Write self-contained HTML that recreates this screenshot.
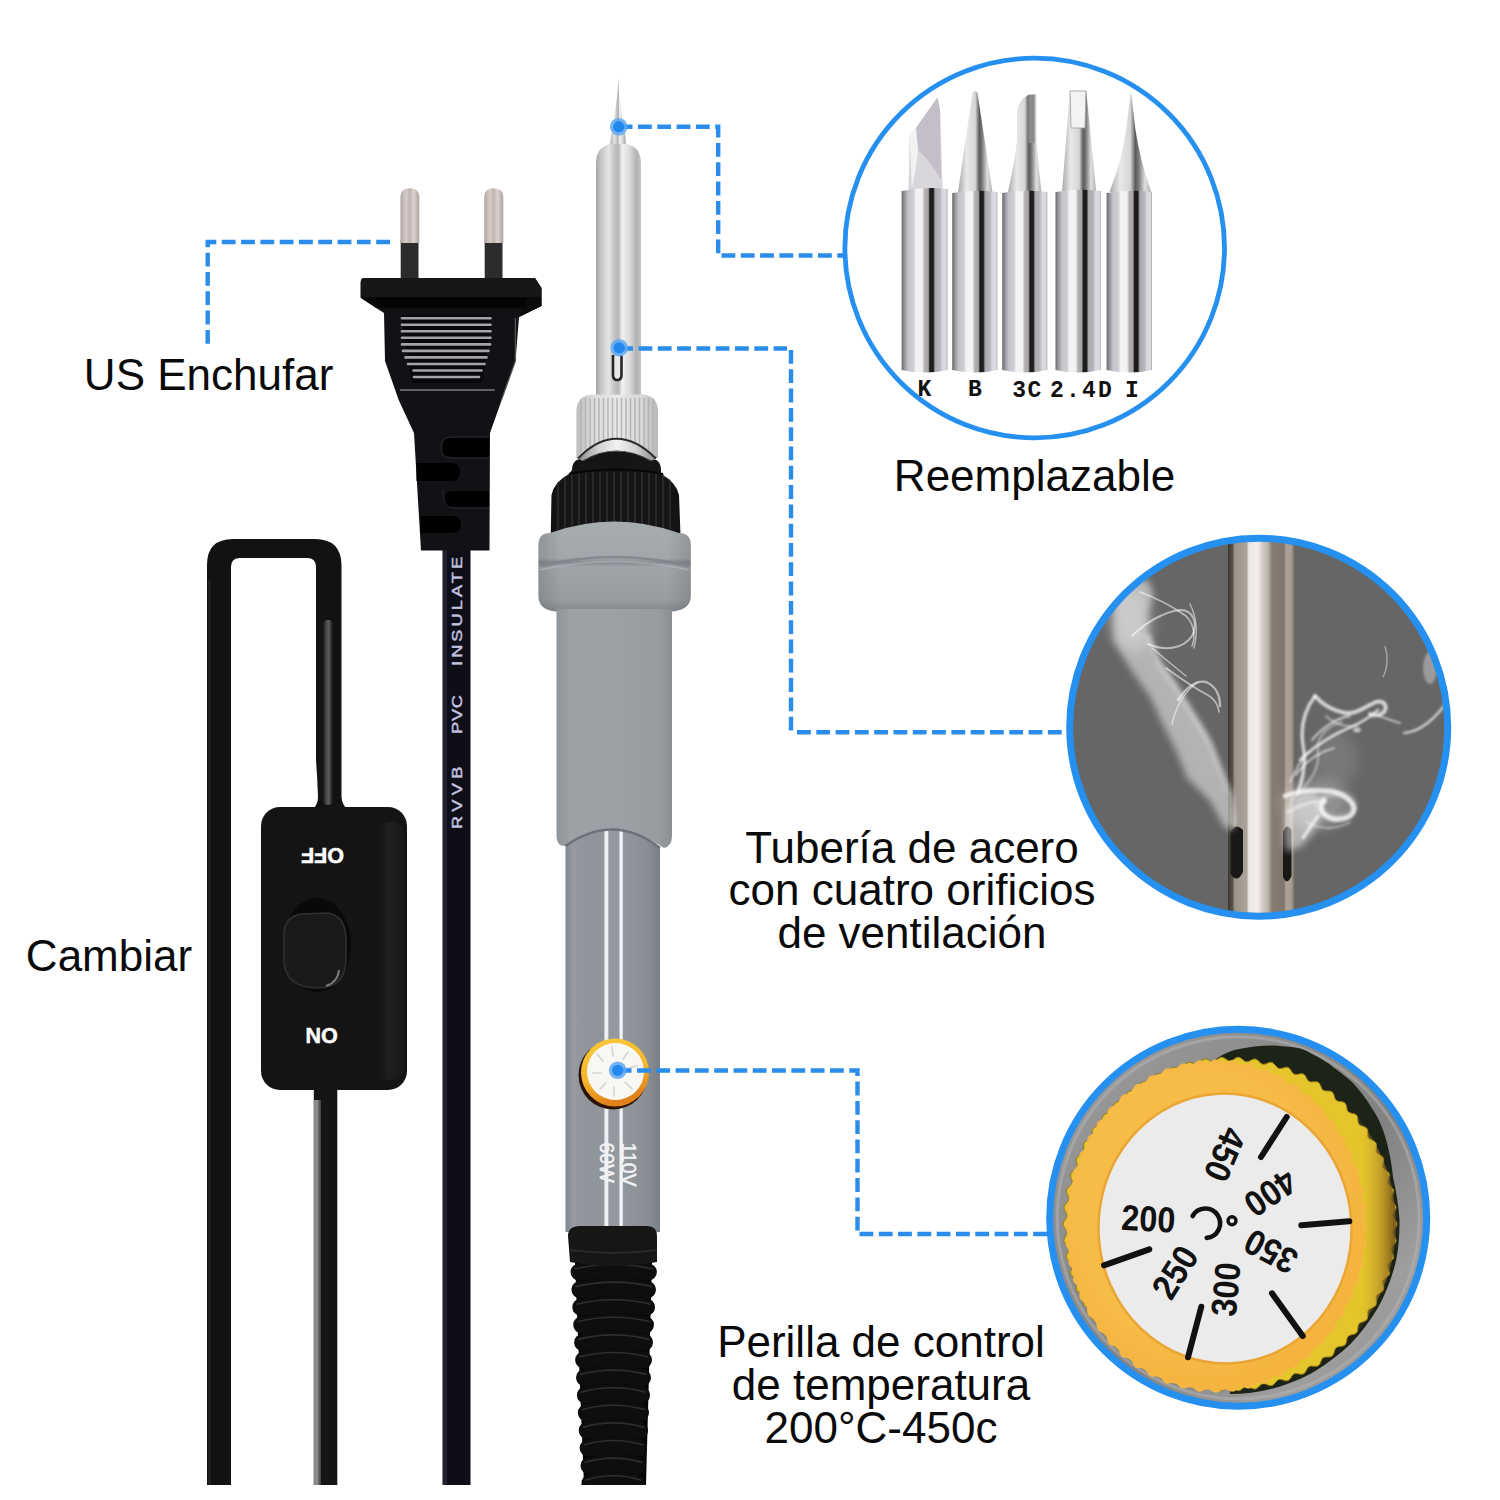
<!DOCTYPE html>
<html><head><meta charset="utf-8">
<style>
html,body{margin:0;padding:0;background:#fff;}
body{width:1500px;height:1500px;overflow:hidden;}
svg{display:block;}
.t{font-family:"Liberation Sans",sans-serif;font-size:44px;fill:#0a0a0a;}
</style></head><body>
<svg width="1500" height="1500" viewBox="0 0 1500 1500">
<defs>
  <linearGradient id="prong" x1="0" x2="1">
    <stop offset="0" stop-color="#b3a7a4"/><stop offset="0.3" stop-color="#d6ccc9"/><stop offset="0.5" stop-color="#c0b4b1"/><stop offset="0.7" stop-color="#dcd3d0"/><stop offset="1" stop-color="#ada29f"/>
  </linearGradient>
  <linearGradient id="barrel" x1="0" x2="1">
    <stop offset="0" stop-color="#a5a5a5"/><stop offset="0.1" stop-color="#c4c4c4"/><stop offset="0.28" stop-color="#e4e4e4"/><stop offset="0.42" stop-color="#c2c2c2"/><stop offset="0.5" stop-color="#b8b8b8"/><stop offset="0.58" stop-color="#f2f2f2"/><stop offset="0.75" stop-color="#dadada"/><stop offset="0.9" stop-color="#b2b2b2"/><stop offset="1" stop-color="#c6c6c6"/>
  </linearGradient>
  <linearGradient id="nut" x1="0" x2="1">
    <stop offset="0" stop-color="#bdbdbd"/><stop offset="0.2" stop-color="#dcdcdc"/><stop offset="0.5" stop-color="#e8e8e8"/><stop offset="0.8" stop-color="#d8d8d8"/><stop offset="1" stop-color="#b8b8b8"/>
  </linearGradient>
  <linearGradient id="ring" x1="0" x2="1">
    <stop offset="0" stop-color="#8a8a8a"/><stop offset="0.25" stop-color="#cfcfcf"/><stop offset="0.5" stop-color="#f2f2f2"/><stop offset="0.75" stop-color="#d0d0d0"/><stop offset="1" stop-color="#8a8a8a"/>
  </linearGradient>
  <linearGradient id="collar" x1="0" y1="0" x2="0" y2="1">
    <stop offset="0" stop-color="#a7acaf"/><stop offset="0.4" stop-color="#a2a7ab"/><stop offset="0.45" stop-color="#868c91"/><stop offset="0.5" stop-color="#a0a5a9"/><stop offset="0.85" stop-color="#989da1"/><stop offset="1" stop-color="#7f858a"/>
  </linearGradient>
  <linearGradient id="collarH" x1="0" x2="1">
    <stop offset="0" stop-color="#000" stop-opacity="0.12"/><stop offset="0.15" stop-color="#000" stop-opacity="0"/><stop offset="0.85" stop-color="#000" stop-opacity="0"/><stop offset="1" stop-color="#000" stop-opacity="0.12"/>
  </linearGradient>
  <linearGradient id="grip" x1="0" x2="1">
    <stop offset="0" stop-color="#90959a"/><stop offset="0.12" stop-color="#9ca1a5"/><stop offset="0.5" stop-color="#9ca1a5"/><stop offset="0.88" stop-color="#979ca0"/><stop offset="1" stop-color="#8a8f94"/>
  </linearGradient>
  <linearGradient id="tube" x1="0" x2="1">
    <stop offset="0" stop-color="#838990"/><stop offset="0.08" stop-color="#959aa0"/><stop offset="0.25" stop-color="#90959c"/><stop offset="0.405" stop-color="#90959c"/><stop offset="0.418" stop-color="#eef0f4"/><stop offset="0.447" stop-color="#eef0f4"/><stop offset="0.46" stop-color="#92979e"/><stop offset="0.565" stop-color="#959aa1"/><stop offset="0.578" stop-color="#f2f4f7"/><stop offset="0.6" stop-color="#f2f4f7"/><stop offset="0.613" stop-color="#92979e"/><stop offset="0.85" stop-color="#8a8f96"/><stop offset="1" stop-color="#7a7f86"/>
  </linearGradient>
  <linearGradient id="relief" x1="0" x2="1">
    <stop offset="0" stop-color="#0c0c0c"/><stop offset="0.45" stop-color="#1c1c1c"/><stop offset="0.7" stop-color="#222"/><stop offset="1" stop-color="#0c0c0c"/>
  </linearGradient>
  <linearGradient id="cyl" x1="0" x2="1">
    <stop offset="0" stop-color="#6a6a6a"/><stop offset="0.07" stop-color="#9a98a0"/><stop offset="0.14" stop-color="#c4c2c8"/><stop offset="0.26" stop-color="#d0ced4"/><stop offset="0.31" stop-color="#f4f4f6"/><stop offset="0.45" stop-color="#f2f2f4"/><stop offset="0.5" stop-color="#b4b0b0"/><stop offset="0.58" stop-color="#a8a4a4"/><stop offset="0.615" stop-color="#1c1c1c"/><stop offset="0.69" stop-color="#1c1c1c"/><stop offset="0.73" stop-color="#aca8b0"/><stop offset="0.84" stop-color="#b8b4bc"/><stop offset="0.88" stop-color="#d8d6de"/><stop offset="0.97" stop-color="#dcdae0"/><stop offset="1" stop-color="#a0a0a0"/>
  </linearGradient>
  <linearGradient id="cone" x1="0" x2="1">
    <stop offset="0" stop-color="#a8a8a8"/><stop offset="0.25" stop-color="#e8e8e8"/><stop offset="0.5" stop-color="#d6d6d6"/><stop offset="0.62" stop-color="#5a5a5a"/><stop offset="0.7" stop-color="#7a7a7a"/><stop offset="0.85" stop-color="#e0e0e0"/><stop offset="1" stop-color="#b0b0b0"/>
  </linearGradient>
  <linearGradient id="pipe" x1="0" x2="1">
    <stop offset="0" stop-color="#3a372f"/><stop offset="0.07" stop-color="#5a554c"/><stop offset="0.1" stop-color="#9a938a"/><stop offset="0.28" stop-color="#aba49b"/><stop offset="0.31" stop-color="#ece6e4"/><stop offset="0.45" stop-color="#f2eeec"/><stop offset="0.52" stop-color="#d2cac4"/><stop offset="0.6" stop-color="#bdb5ad"/><stop offset="0.66" stop-color="#877d73"/><stop offset="0.84" stop-color="#7f756b"/><stop offset="0.87" stop-color="#aca298"/><stop offset="0.95" stop-color="#a79d93"/><stop offset="1" stop-color="#6e675f"/>
  </linearGradient>
  <linearGradient id="metal" x1="0" y1="0" x2="1" y2="1">
    <stop offset="0" stop-color="#a3a3a3"/><stop offset="0.3" stop-color="#8d8d8d"/><stop offset="0.55" stop-color="#828282"/><stop offset="0.75" stop-color="#9e9e9e"/><stop offset="1" stop-color="#8a8a8a"/>
  </linearGradient>
  <linearGradient id="sideg" x1="0" y1="0" x2="1" y2="0">
    <stop offset="0.88" stop-color="#e6c62a" stop-opacity="0"/><stop offset="0.95" stop-color="#b08828" stop-opacity="0.6"/><stop offset="1" stop-color="#6a4c14" stop-opacity="0.9"/>
  </linearGradient>
  <radialGradient id="knobface" cx="0.45" cy="0.45" r="0.6">
    <stop offset="0.7" stop-color="#f7bb48"/><stop offset="1" stop-color="#f3b13a"/>
  </radialGradient>
  <linearGradient id="kring" x1="0" y1="0" x2="0.3" y2="1">
    <stop offset="0" stop-color="#f9cc3a"/><stop offset="0.6" stop-color="#f6b52a"/><stop offset="1" stop-color="#e0801a"/>
  </linearGradient>
  <linearGradient id="swside" x1="0" x2="1">
    <stop offset="0" stop-color="#1c1c1c" stop-opacity="0"/><stop offset="0.4" stop-color="#1f1f1f"/><stop offset="1" stop-color="#181818"/>
  </linearGradient>
  <linearGradient id="cabhl" x1="0" x2="1">
    <stop offset="0" stop-color="#121212" stop-opacity="0"/><stop offset="0.35" stop-color="#4a4a4a"/><stop offset="0.6" stop-color="#5a5a5a"/><stop offset="1" stop-color="#121212" stop-opacity="0"/>
  </linearGradient>
  <radialGradient id="dotg">
    <stop offset="0" stop-color="#2a8af0"/><stop offset="0.6" stop-color="#2a8af0"/><stop offset="1" stop-color="#2a8af0" stop-opacity="0"/>
  </radialGradient>
  <clipPath id="c1clip"><circle cx="1034.7" cy="248" r="188"/></clipPath>
  <clipPath id="c2clip"><circle cx="1258.7" cy="727.2" r="189"/></clipPath>
  <clipPath id="c3clip"><circle cx="1238.2" cy="1217.8" r="188.5"/></clipPath>
  <filter id="fb05" filterUnits="userSpaceOnUse" x="1000" y="450" width="500" height="500"><feGaussianBlur stdDeviation="0.6"/></filter>
  <filter id="fb1" filterUnits="userSpaceOnUse" x="1000" y="450" width="500" height="500"><feGaussianBlur stdDeviation="1"/></filter>
  <filter id="fb2" filterUnits="userSpaceOnUse" x="1000" y="450" width="500" height="500"><feGaussianBlur stdDeviation="2"/></filter>
  <filter id="fb3" filterUnits="userSpaceOnUse" x="1000" y="450" width="500" height="500"><feGaussianBlur stdDeviation="3.5"/></filter>
  <filter id="fb6" filterUnits="userSpaceOnUse" x="1000" y="450" width="500" height="500"><feGaussianBlur stdDeviation="7"/></filter>
  <filter id="blur05" x="-20%" y="-20%" width="140%" height="140%"><feGaussianBlur stdDeviation="0.6"/></filter>
  <filter id="blur1" x="-20%" y="-20%" width="140%" height="140%"><feGaussianBlur stdDeviation="1"/></filter>
  <filter id="blur2" x="-20%" y="-20%" width="140%" height="140%"><feGaussianBlur stdDeviation="2"/></filter>
  <filter id="blur3" x="-30%" y="-30%" width="160%" height="160%"><feGaussianBlur stdDeviation="4"/></filter>
  <filter id="blur6" x="-30%" y="-30%" width="160%" height="160%"><feGaussianBlur stdDeviation="7"/></filter>
</defs>
<rect width="1500" height="1500" fill="#fff"/>

<path d="M207 1485 V565 Q207 539 233 539 H315 Q341 539 341.5 565 V797 Q342 805 348 810 H312 Q318 805 318 797 Q317.5 780 316 760 V567 Q316 558 307 558 H240 Q231 558 231 567 V1485 Z" fill="#121212"/>
<path d="M209.5 1485 V580" stroke="#262626" stroke-width="2" fill="none"/>
<rect x="321.5" y="620" width="13" height="185" rx="6" fill="url(#cabhl)"/>
<rect x="313.8" y="1085" width="23.5" height="400" fill="#151515"/>
<rect x="313.8" y="1100" width="5" height="385" fill="#8a8a8a"/>
<rect x="318.8" y="1100" width="2" height="385" fill="#555"/>
<rect x="261" y="807" width="146" height="283" rx="19" fill="#141414"/>
<rect x="378" y="822" width="26" height="258" rx="12" fill="url(#swside)"/>
<ellipse cx="317" cy="945" rx="34" ry="47" fill="#090909"/>
<path d="M284 940 Q282 918 300 914 L328 913 Q346 916 346 940 V962 Q344 988 318 988 Q286 988 284 962 Z" fill="#1a1a1a" stroke="#303030" stroke-width="1.6"/>
<path d="M339 970 Q338 982 326 986" stroke="#7a7a7a" stroke-width="2" fill="none"/>
<g font-family="Liberation Sans" font-weight="bold" font-size="21.5" fill="#fff" text-anchor="middle" stroke="#fff" stroke-width="0.5">
  <text transform="rotate(180 322.5 855)" x="322.5" y="862.5">OFF</text>
  <text transform="rotate(180 321.5 1035)" x="321.5" y="1042.5">ON</text>
</g>

<rect x="442.5" y="548" width="28" height="937" fill="#0e0e16"/>
<rect x="443" y="548" width="4" height="937" fill="#22222e"/>
<g font-family="Liberation Sans" font-size="14" fill="#c4c1e0" stroke="#c4c1e0" stroke-width="0.45">
  <text transform="translate(461.5 666) rotate(-90) scale(1.3 1)" textLength="84" lengthAdjust="spacing">INSULATE</text>
  <text transform="translate(461.5 734) rotate(-90) scale(1.3 1)" textLength="30" lengthAdjust="spacing">PVC</text>
  <text transform="translate(461.5 829) rotate(-90) scale(1.3 1)" textLength="48" lengthAdjust="spacing">RVVB</text>
</g>

<rect x="400.7" y="240" width="17.8" height="40" fill="#2c2c2c"/>
<rect x="484.7" y="240" width="17.8" height="40" fill="#2c2c2c"/>
<path d="M400.4 243 V197 Q400.4 188.3 409.9 188.3 Q419.3 188.3 419.3 197 V243 Z" fill="url(#prong)"/>
<path d="M484.2 243 V197 Q484.2 188.3 493.7 188.3 Q503.3 188.3 503.3 197 V243 Z" fill="url(#prong)"/>
<path d="M364 278 H535 L541.5 288 V306 L519 317 L515.5 361 L490 433 L489.5 550.5 H421 L414 433 L398.7 400 L385 361 L384 313 L360.7 298 V283 Q360.7 278 364 278 Z" fill="#121216"/>
<path d="M364 278 H535 L541.5 288 V297.3 H360.7 V283 Q360.7 278 364 278 Z" fill="#171717"/>
<path d="M360.7 297.3 H528 V308.3 H376.7 Z" fill="#040404"/>
<path d="M528 297.3 L541.5 297.3 V306 L519 317 Z" fill="#0b0b0b"/>
<path d="M515.4 318 L515.4 361 L501.4 400" stroke="#555" stroke-width="1.3" fill="none"/>
<path d="M401 315 H492 L482 383 H412 Z" fill="#09090c"/>
<g stroke="#a4a4a8" stroke-width="2.6" stroke-linecap="round">
  <line x1="402" y1="318.2" x2="490.5" y2="318.2"/><line x1="402" y1="324.7" x2="490.5" y2="324.7"/>
  <line x1="402" y1="331.3" x2="490.5" y2="331.3"/><line x1="402" y1="337.8" x2="490.5" y2="337.8"/>
  <line x1="402" y1="344.4" x2="490" y2="344.4"/><line x1="403" y1="350.9" x2="488.5" y2="350.9"/>
  <line x1="405.5" y1="357.4" x2="486.5" y2="357.4"/><line x1="408" y1="364" x2="484.5" y2="364"/>
  <line x1="413.5" y1="370.5" x2="481.5" y2="370.5"/><line x1="414" y1="377" x2="479" y2="377"/>
</g>
<line x1="400" y1="390" x2="494.8" y2="390" stroke="#7a7a7a" stroke-width="1.6"/>
<g fill="#000">
  <path d="M451 438 H489 V457 H451 Q442 457 442 447.5 Q442 438 451 438 Z"/>
  <path d="M416.5 463 H451 Q460 463 460 472 Q460 481 451 481 H416.5 Z"/>
  <path d="M453 491 H489 V507 H453 Q444 507 444 499 Q444 491 453 491 Z"/>
  <path d="M420.5 516 H452 Q461 516 461 524.5 Q461 533 452 533 H420.5 Z"/>
</g>
<g fill="none" stroke="#2a2a2e" stroke-width="1">
  <path d="M489 437 H451 Q441 437 441 447.5 Q441 458 451 458 H489"/>
  <path d="M443 490 Q443 508 453 508 H489"/>
</g>

<!-- tip -->
<path d="M618.3 79 C619.2 96 621 112 625.5 137 L626.5 147 H610 L611 137 C615.5 112 617.4 96 618.3 79 Z" fill="url(#barrel)"/>
<path d="M618.3 79 L618.9 137 H617.7 Z" fill="#a8a8a8"/>
<path d="M596 162 Q597 146 611 144 H626 Q640 146 641 162 V396 H596 Z" fill="url(#barrel)"/>
<path d="M613 355 V375 Q613 380 617.3 380 Q621.5 380 621.5 375 V355" fill="#e8e8e8" stroke="#262626" stroke-width="2.6"/>
<!-- knurled nut -->
<path d="M576.4 412 Q576.4 394.4 594 394.4 H641 Q658 394.4 658 412 V458 L655 458 Q616 418 579 458 L576.4 458 Z" fill="url(#nut)"/>
<clipPath id="nutclip"><path d="M576.4 412 Q576.4 394.4 594 394.4 H641 Q658 394.4 658 412 V458 L655 458 Q616 418 579 458 L576.4 458 Z"/></clipPath>
<g clip-path="url(#nutclip)"><g stroke="#b0b0b0" stroke-width="1.5" opacity="0.9"><line x1="581.0" y1="398" x2="581.0" y2="452"/><line x1="585.5" y1="398" x2="585.5" y2="452"/><line x1="590.0" y1="398" x2="590.0" y2="452"/><line x1="594.5" y1="398" x2="594.5" y2="452"/><line x1="599.0" y1="398" x2="599.0" y2="452"/><line x1="603.5" y1="398" x2="603.5" y2="452"/><line x1="608.0" y1="398" x2="608.0" y2="452"/><line x1="612.5" y1="398" x2="612.5" y2="452"/><line x1="617.0" y1="398" x2="617.0" y2="452"/><line x1="621.5" y1="398" x2="621.5" y2="452"/><line x1="626.0" y1="398" x2="626.0" y2="452"/><line x1="630.5" y1="398" x2="630.5" y2="452"/><line x1="635.0" y1="398" x2="635.0" y2="452"/><line x1="639.5" y1="398" x2="639.5" y2="452"/><line x1="644.0" y1="398" x2="644.0" y2="452"/><line x1="648.5" y1="398" x2="648.5" y2="452"/><line x1="653.0" y1="398" x2="653.0" y2="452"/></g></g>
<!-- black cap -->
<path d="M572 470 Q572 459 583 458.5 Q616 444 650 458.5 Q661 459 661 470 V474 Q676 482 679 495 L680.4 533 H550.8 L551.5 495 Q554 482 569 474 Z" fill="#151515"/>
<clipPath id="capclip"><path d="M569 474 Q616 466 663 474 Q676 482 679 495 L680.4 533 H550.8 L551.5 495 Q554 482 569 474 Z"/></clipPath>
<g clip-path="url(#capclip)"><g stroke="#333" stroke-width="2.2" opacity="0.7"><line x1="558.0" y1="472" x2="558.0" y2="530"/><line x1="565.0" y1="472" x2="565.0" y2="530"/><line x1="572.0" y1="472" x2="572.0" y2="530"/><line x1="579.0" y1="472" x2="579.0" y2="530"/><line x1="586.0" y1="472" x2="586.0" y2="530"/><line x1="593.0" y1="472" x2="593.0" y2="530"/><line x1="600.0" y1="472" x2="600.0" y2="530"/><line x1="607.0" y1="472" x2="607.0" y2="530"/><line x1="614.0" y1="472" x2="614.0" y2="530"/><line x1="621.0" y1="472" x2="621.0" y2="530"/><line x1="628.0" y1="472" x2="628.0" y2="530"/><line x1="635.0" y1="472" x2="635.0" y2="530"/><line x1="642.0" y1="472" x2="642.0" y2="530"/><line x1="649.0" y1="472" x2="649.0" y2="530"/><line x1="656.0" y1="472" x2="656.0" y2="530"/><line x1="663.0" y1="472" x2="663.0" y2="530"/><line x1="670.0" y1="472" x2="670.0" y2="530"/></g>
<rect x="549" y="474" width="132" height="60" fill="url(#collarH)"/></g>
<path d="M569 474 Q616 465 663 474" stroke="#060606" stroke-width="2" fill="none"/>
<!-- ring -->
<path d="M578 458.5 Q616 419 656 458.5 L651 461 Q616 441 583 461 Z" fill="url(#ring)"/>
<path d="M578 458.5 Q616 419 656 458.5" stroke="#2a2a2a" stroke-width="2" fill="none"/>
<path d="M583 461 Q616 441 651 461" stroke="#3a3a3a" stroke-width="1.2" fill="none"/>
<!-- gray collar -->
<path d="M538.4 545 Q538.4 533 550 533 Q614 510 679 533 Q690.8 533 690.8 545 V596 Q690.8 608 676 611 Q660 614 640 612 H590 Q568 614 552 611 Q538.4 608 538.4 596 Z" fill="url(#collar)"/>
<path d="M538.4 545 Q538.4 533 550 533 Q614 510 679 533 Q690.8 533 690.8 545 V596 Q690.8 608 676 611 Q660 614 640 612 H590 Q568 614 552 611 Q538.4 608 538.4 596 Z" fill="url(#collarH)"/>
<path d="M540 566 Q614 548 689 566" stroke="#7d8388" stroke-width="2.5" fill="none" opacity="0.8"/>
<path d="M540 570 Q614 553 689 570" stroke="#b0b5b8" stroke-width="1.5" fill="none" opacity="0.7"/>
<!-- rubber grip -->
<path d="M556.5 609 H672 V836 Q672 846 664 848 Q614 815 565 846 Q556.5 846 556.5 836 Z" fill="url(#grip)"/>
<!-- lower tube -->
<path d="M565.5 846 Q614 812 660 848 V1232 H565.5 Z" fill="url(#tube)"/>
<path d="M565.5 846 Q614 812 660 848" stroke="#6c7278" stroke-width="2.5" fill="none"/>
<!-- knob -->
<circle cx="613" cy="1075" r="34.5" fill="#2a1206"/>
<circle cx="615" cy="1072.5" r="34" fill="url(#kring)"/>
<circle cx="615.5" cy="1071.5" r="28.5" fill="#f8f7f3"/>
<g stroke="#cfcfcf" stroke-width="1.6" opacity="0.9" stroke-linecap="round">
  <line x1="612" y1="1047" x2="613" y2="1056"/><line x1="628" y1="1052" x2="623" y2="1059"/><line x1="637" y1="1066" x2="629" y2="1068"/>
  <line x1="597" y1="1054" x2="603" y2="1061"/><line x1="593" y1="1073" x2="601" y2="1073"/><line x1="600" y1="1089" x2="606" y2="1083"/>
  <line x1="614" y1="1096" x2="614" y2="1087"/><line x1="632" y1="1089" x2="625" y2="1082"/>
</g>
<g font-family="Liberation Sans" font-size="19.5" fill="#f2f2f4" stroke="#f2f2f4" stroke-width="0.5">
  <text transform="translate(621.7 1142.5) rotate(90)">110V</text>
  <text transform="translate(600.3 1142.5) rotate(90)">60W</text>
</g>
<clipPath id="relclip"><rect x="540" y="1200" width="140" height="285"/></clipPath><g clip-path="url(#relclip)"><path d="M575 1262 H652 L646 1485 H584 Z" fill="#050505"/><g fill="#0e0e0e"><path d="M579.1 1263.4 Q613.7 1258.4 648.3 1263.4 A8.6 8.6 0 0 1 648.3 1280.6 Q613.7 1276.6 579.1 1280.6 A8.6 8.6 0 0 1 579.1 1263.4 Z"/><path d="M580.0 1281.0 Q613.7 1276.0 647.4 1281.0 A8.6 8.6 0 0 1 647.4 1298.2 Q613.7 1294.2 580.0 1298.2 A8.6 8.6 0 0 1 580.0 1281.0 Z"/><path d="M580.9 1298.6 Q613.6 1293.6 646.4 1298.6 A8.6 8.6 0 0 1 646.4 1315.8 Q613.6 1311.8 580.9 1315.8 A8.6 8.6 0 0 1 580.9 1298.6 Z"/><path d="M581.8 1316.2 Q613.6 1311.2 645.4 1316.2 A8.6 8.6 0 0 1 645.4 1333.4 Q613.6 1329.4 581.8 1333.4 A8.6 8.6 0 0 1 581.8 1316.2 Z"/><path d="M582.7 1333.8 Q613.6 1328.8 644.4 1333.8 A8.6 8.6 0 0 1 644.4 1351.0 Q613.6 1347.0 582.7 1351.0 A8.6 8.6 0 0 1 582.7 1333.8 Z"/><path d="M583.7 1351.4 Q613.5 1346.4 643.4 1351.4 A8.6 8.6 0 0 1 643.4 1368.6 Q613.5 1364.6 583.7 1368.6 A8.6 8.6 0 0 1 583.7 1351.4 Z"/><path d="M584.6 1369.0 Q613.5 1364.0 642.4 1369.0 A8.6 8.6 0 0 1 642.4 1386.2 Q613.5 1382.2 584.6 1386.2 A8.6 8.6 0 0 1 584.6 1369.0 Z"/><path d="M585.5 1386.6 Q613.5 1381.6 641.4 1386.6 A8.6 8.6 0 0 1 641.4 1403.8 Q613.5 1399.8 585.5 1403.8 A8.6 8.6 0 0 1 585.5 1386.6 Z"/><path d="M586.4 1404.2 Q613.4 1399.2 640.4 1404.2 A8.6 8.6 0 0 1 640.4 1421.4 Q613.4 1417.4 586.4 1421.4 A8.6 8.6 0 0 1 586.4 1404.2 Z"/><path d="M587.3 1421.8 Q613.4 1416.8 639.5 1421.8 A8.6 8.6 0 0 1 639.5 1439.0 Q613.4 1435.0 587.3 1439.0 A8.6 8.6 0 0 1 587.3 1421.8 Z"/><path d="M588.2 1439.4 Q613.3 1434.4 638.5 1439.4 A8.6 8.6 0 0 1 638.5 1456.6 Q613.3 1452.6 588.2 1456.6 A8.6 8.6 0 0 1 588.2 1439.4 Z"/><path d="M589.1 1457.0 Q613.3 1452.0 637.5 1457.0 A8.6 8.6 0 0 1 637.5 1474.2 Q613.3 1470.2 589.1 1474.2 A8.6 8.6 0 0 1 589.1 1457.0 Z"/><path d="M590.0 1474.6 Q613.3 1469.6 636.5 1474.6 A8.6 8.6 0 0 1 636.5 1491.8 Q613.3 1487.8 590.0 1491.8 A8.6 8.6 0 0 1 590.0 1474.6 Z"/></g><g fill="none" stroke="#2f2f2f" stroke-width="1.6"><path d="M574.5 1269.0 Q613.7 1260.0 652.9 1269.0"/><path d="M575.4 1286.6 Q613.7 1277.6 652.0 1286.6"/><path d="M576.3 1304.2 Q613.6 1295.2 651.0 1304.2"/><path d="M577.2 1321.8 Q613.6 1312.8 650.0 1321.8"/><path d="M578.1 1339.4 Q613.6 1330.4 649.0 1339.4"/><path d="M579.1 1357.0 Q613.5 1348.0 648.0 1357.0"/><path d="M580.0 1374.6 Q613.5 1365.6 647.0 1374.6"/><path d="M580.9 1392.2 Q613.5 1383.2 646.0 1392.2"/><path d="M581.8 1409.8 Q613.4 1400.8 645.0 1409.8"/><path d="M582.7 1427.4 Q613.4 1418.4 644.1 1427.4"/><path d="M583.6 1445.0 Q613.3 1436.0 643.1 1445.0"/><path d="M584.5 1462.6 Q613.3 1453.6 642.1 1462.6"/><path d="M585.4 1480.2 Q613.3 1471.2 641.1 1480.2"/></g></g><path d="M568 1236 Q568 1226 580 1226 H647 Q657 1226 657 1236 V1262 Q614 1270 570 1262 Z" fill="#161616"/><path d="M570 1250 Q614 1256 657 1250" fill="none" stroke="#2a2a2a" stroke-width="2"/>
<g fill="none" stroke="#2a8ceb" stroke-width="4.4" stroke-dasharray="13.8 5.5">
  <path d="M390 242 H207.7 V346"/>
  <path d="M618.7 126.7 H718.2 V255.5 H846"/>
  <path d="M619.2 348.5 H787 M791 350 V734.4 M797 732.2 H1066"/>
  <path d="M617.7 1070.5 H857.5 V1234 H1049"/>
</g>

<g><circle cx="618.7" cy="126.7" r="8.8" fill="#5ea9f2" opacity="0.85"/><circle cx="618.7" cy="126.7" r="5.6" fill="#2288f0"/></g>
<g><circle cx="619.2" cy="347.8" r="8.8" fill="#5ea9f2" opacity="0.85"/><circle cx="619.2" cy="347.8" r="5.6" fill="#2288f0"/></g>
<g><circle cx="617.7" cy="1070.3" r="8.8" fill="#5ea9f2" opacity="0.85"/><circle cx="617.7" cy="1070.3" r="5.6" fill="#2288f0"/></g>

<circle cx="1034.7" cy="248" r="189.8" fill="#fff"/>
<g id="tips">
  <path d="M908.5 190 L909.5 138 Q911 132 916 128 L937.5 97.5 L940 110 L942.7 190 Z" fill="#d9d6dc"/>
  <path d="M916 128 L937.5 97.5 L940 110 L941 180 Q930 160 918 150 Z" fill="#c4bec8"/>
  <path d="M909.5 138 Q911 132 916 128 L918 150 Q916 170 912 188 Z" fill="#f2f2f2"/>
  <path d="M958 192 L972.5 93 Q975 89 977.5 93 L992.5 192 Z" fill="url(#cone)"/>
  <path d="M1008 192 Q1015 160 1017 140 L1017 110 Q1019 100 1028 95 L1036.5 94 L1036.5 140 Q1038 165 1041.5 192 Z" fill="url(#cone)"/>
  <rect x="1028.5" y="95" width="6" height="48" fill="#8d8a8e"/>
  <path d="M1062 192 L1069.8 91 H1086.3 L1096.2 192 Z" fill="url(#cone)"/>
  <path d="M1070 91 H1086 L1085 128 H1071 Z" fill="#f3f3f3" stroke="#9a9a9a" stroke-width="0.8"/>
  <path d="M1109.5 192 Q1122 160 1126 130 L1130.9 91 L1135.5 130 Q1140 160 1151.2 192 Z" fill="url(#cone)"/>
  <g fill="url(#cyl)">
    <path d="M901.6 191 Q924.5 186 947.5 189 V370 Q924.5 375 901.6 370 Z"/>
    <path d="M952.2 193 Q974.7 189 997.3 192 V370 Q974.7 375 952.2 370 Z"/>
    <path d="M1002.2 193 Q1024.7 189 1047.3 192 V370 Q1024.7 375 1002.2 370 Z"/>
    <path d="M1055.5 192 Q1078 188 1100.6 191 V370 Q1078 375 1055.5 370 Z"/>
    <path d="M1106.6 193 Q1129.3 189 1152 192 V370 Q1129.3 375 1106.6 370 Z"/>
  </g>
  <g font-family="Liberation Mono" font-weight="bold" font-size="23" fill="#111" text-anchor="middle">
    <text x="924.3" y="396">K</text>
    <text x="975" y="396">B</text>
    <text x="1027.5" y="397" letter-spacing="1.5">3C</text>
    <text x="1082" y="397" letter-spacing="2.2">2.4D</text>
    <text x="1132" y="397">I</text>
  </g>
</g>
<circle cx="1034.7" cy="248" r="189.8" fill="none" stroke="#2590f0" stroke-width="4.8"/>

<g clip-path="url(#c2clip)">
  <rect x="1060" y="530" width="400" height="400" fill="#666"/>
  <rect x="1228" y="530" width="66.7" height="400" fill="url(#pipe)"/>
  <path d="M1230.5 832 Q1236 822 1243 830 V872 Q1237 884 1230.5 874 Z" fill="#1a1816"/>
  <path d="M1283 832 Q1287 822 1291.5 830 V876 Q1287 886 1283 877 Z" fill="#1a1816"/>
  <!-- left plume -->
  <ellipse cx="1130" cy="618" rx="22" ry="34" transform="rotate(-10 1130 618)" fill="#fff" opacity="0.3" filter="url(#fb6)"/>
  <path d="M1233.7 829.0 L1233.0 821.5 L1229.5 792.2 L1218.2 761.9 L1207.8 735.7 L1191.0 709.0 L1175.0 682.4 L1156.4 655.8 L1147.7 632.5 L1147.9 613.3 L1153.4 595.5 L1150.1 582.8 L1141.9 577.2 L1126.6 581.9 L1113.5 606.7 L1113.7 640.9 L1131.6 670.8 L1150.4 697.6 L1163.0 724.4 L1176.2 750.9 L1187.2 778.1 L1210.5 801.2 L1223.0 825.1 L1230.3 831.0 Z" fill="#fff" opacity="0.5" filter="url(#fb3)"/>
  <path d="M1233.3 823.3 L1230.7 796.7 L1220.0 770.0 L1209.3 743.3 L1193.3 716.7 L1177.3 690.0 L1158.7 663.3 L1148.0 636.7" fill="none" stroke="#fff" stroke-width="6" stroke-opacity="0.35" stroke-linejoin="round" stroke-linecap="round" filter="url(#fb2)"/>
  <g fill="none" stroke="#fff" stroke-linecap="round" filter="url(#fb05)" stroke-opacity="0.55">
    <path d="M1132 636 C1146 622 1164 612 1180 610 C1194 610 1198 624 1192 636 C1184 648 1166 652 1148 644" stroke-width="2"/>
    <path d="M1140 592 C1156 598 1172 606 1186 616 C1194 624 1196 636 1192 646" stroke-width="1.6"/>
    <path d="M1178 700 C1186 688 1196 680 1206 682 C1216 686 1220 696 1220 706" stroke-width="2.4"/>
    <path d="M1166 668 C1180 678 1194 688 1206 694 C1214 698 1218 704 1219 712" stroke-width="1.6"/>
    <path d="M1152 648 C1164 658 1176 668 1186 676" stroke-width="1.4"/>
    <path d="M1172 724 C1176 706 1184 692 1198 682" stroke-width="1.4"/>
    <path d="M1190 604 C1196 616 1198 632 1194 648" stroke-width="1.4"/>
  </g>
  <!-- right plume -->
  <ellipse cx="1316" cy="804" rx="34" ry="24" fill="#fff" opacity="0.28" filter="url(#fb6)"/>
  <path d="M1286 852 C1282 832 1284 812 1292 798 C1304 786 1318 788 1322 802 C1324 818 1314 834 1302 846 Z" fill="#fff" opacity="0.5" filter="url(#fb3)"/>
  <ellipse cx="1336" cy="806" rx="18" ry="12" fill="none" stroke="#fff" stroke-width="6" opacity="0.35" filter="url(#fb2)"/>
  <g fill="none" stroke="#fff" stroke-linecap="round" filter="url(#fb1)" stroke-opacity="0.72">
    <path d="M1285 796 C1300 790 1315 790 1330 791 C1342 793 1352 800 1354 808 C1354 816 1346 820 1334 819 C1322 816 1318 808 1324 800" stroke-width="5"/>
    <path d="M1318 816 C1312 824 1308 830 1303 838" stroke-width="3"/>
    <path d="M1298 792 C1304 776 1306 760 1303 745 C1300 725 1306 708 1315 696" stroke-width="3.5"/>
    <path d="M1315 696 C1322 704 1330 710 1345 713 C1358 714 1366 706 1376 702 C1384 700 1388 706 1384 712 C1380 716 1374 716 1370 714" stroke-width="4"/>
    <path d="M1300 760 C1310 750 1325 740 1338 733 C1352 726 1365 722 1378 710" stroke-width="2.6"/>
    <path d="M1296 775 C1306 760 1320 752 1334 748" stroke-width="1.8"/>
    <path d="M1312 740 C1322 728 1336 718 1350 716" stroke-width="1.8"/>
    <path d="M1290 782 C1296 770 1300 760 1310 752" stroke-width="1.6"/>
    <path d="M1378 716 C1386 718 1392 721 1400 723" stroke-width="1.4"/>
    <path d="M1404 733 C1416 732 1430 724 1444 706" stroke-width="2.2"/>
  </g>
  <ellipse cx="1335" cy="760" rx="22" ry="30" fill="#fff" opacity="0.12" filter="url(#fb6)"/>
  <g fill="none" stroke="#fff" stroke-linecap="round" filter="url(#fb1)" stroke-opacity="0.45">
    <path d="M1292 800 C1310 782 1320 770 1318 752 C1316 738 1326 726 1342 722" stroke-width="2"/>
    <path d="M1306 822 C1320 830 1336 830 1350 822" stroke-width="2"/>
    <path d="M1288 812 C1300 805 1312 800 1326 802" stroke-width="3"/>
    <path d="M1326 716 C1334 724 1346 728 1358 726" stroke-width="2"/>
  </g>
  <ellipse cx="1357" cy="730" rx="4" ry="2.5" fill="#fff" opacity="0.6" filter="url(#fb1)"/>
  <path d="M1385 646 C1388 655 1388 668 1383 677" fill="none" stroke="#fff" stroke-opacity="0.4" stroke-width="1.5" filter="url(#fb05)"/>
  <ellipse cx="1430" cy="668" rx="7" ry="16" fill="#cfcfcf" opacity="0.5" filter="url(#fb1)"/>
</g>
<circle cx="1258.7" cy="727.2" r="189" fill="none" stroke="#2590f0" stroke-width="7"/>

<g clip-path="url(#c3clip)">
  <rect x="1040" y="1020" width="410" height="410" fill="url(#metal)"/>
  <circle cx="1238.2" cy="1217.8" r="181" fill="none" stroke="#b5b5b5" stroke-width="3" opacity="0.5"/>
  <path d="M1212 1062 C1222 1054 1232 1050 1242 1048.5 C1255 1046 1270 1045 1280 1046 C1295 1047 1300 1048 1307 1051 C1318 1057 1326 1061 1333 1067 C1340 1072 1347 1077 1353 1083 C1362 1093 1368 1101 1373 1110 C1380 1120 1384 1132 1387 1143 C1390 1155 1392 1166 1393 1177 C1396 1190 1398.5 1205 1399.5 1220 C1399.5 1240 1398 1255 1394.2 1268 C1390 1282 1385 1296 1377.2 1309 C1370 1321 1361 1333 1350.2 1344.2 C1340 1354 1328 1363 1315 1371.2 C1302 1379 1288 1384 1274 1388.2 C1260 1392 1245 1394 1230 1394 L1220 1230 Z" fill="#1c2418"/>
  <polygon points="1397.0,1224.0 1396.4,1226.1 1394.9,1228.2 1393.5,1230.2 1392.8,1232.3 1393.3,1234.4 1394.5,1236.5 1395.7,1238.7 1396.1,1240.9 1395.3,1242.9 1393.7,1244.8 1392.0,1246.7 1391.1,1248.7 1391.4,1250.8 1392.4,1253.1 1393.4,1255.4 1393.6,1257.6 1392.6,1259.6 1390.7,1261.3 1388.9,1263.0 1387.8,1264.9 1387.8,1267.0 1388.6,1269.4 1389.4,1271.8 1389.3,1274.0 1388.1,1275.8 1386.1,1277.4 1384.1,1278.9 1382.9,1280.6 1382.7,1282.8 1383.2,1285.2 1383.7,1287.7 1383.4,1289.8 1382.1,1291.6 1379.9,1292.9 1377.8,1294.2 1376.4,1295.8 1376.0,1297.9 1376.2,1300.4 1376.5,1302.9 1376.0,1305.0 1374.5,1306.6 1372.2,1307.7 1369.9,1308.8 1368.3,1310.2 1367.7,1312.3 1367.8,1314.8 1367.8,1317.3 1367.1,1319.4 1365.4,1320.8 1363.0,1321.7 1360.6,1322.5 1358.9,1323.8 1358.1,1325.8 1357.9,1328.3 1357.6,1330.8 1356.7,1332.8 1354.9,1334.0 1352.4,1334.6 1350.0,1335.2 1348.2,1336.3 1347.1,1338.2 1346.7,1340.7 1346.2,1343.1 1345.0,1345.0 1343.1,1346.0 1340.6,1346.4 1338.1,1346.8 1336.2,1347.7 1335.0,1349.5 1334.3,1351.9 1333.5,1354.3 1332.2,1356.0 1330.2,1356.9 1327.7,1357.0 1325.2,1357.1 1323.1,1357.8 1321.8,1359.4 1320.8,1361.8 1319.8,1364.1 1318.3,1365.7 1316.2,1366.3 1313.7,1366.2 1311.2,1366.0 1309.1,1366.5 1307.6,1368.0 1306.4,1370.2 1305.2,1372.5 1303.5,1373.9 1301.4,1374.3 1298.9,1373.9 1296.4,1373.5 1294.3,1373.8 1292.6,1375.1 1291.2,1377.2 1289.8,1379.3 1288.0,1380.6 1285.8,1380.8 1283.4,1380.1 1280.9,1379.5 1278.8,1379.5 1277.0,1380.7 1275.4,1382.6 1273.7,1384.5 1271.9,1385.6 1269.7,1385.6 1267.3,1384.7 1265.0,1383.8 1262.8,1383.7 1260.9,1384.7 1259.1,1386.4 1257.3,1388.1 1255.3,1389.1 1253.1,1388.8 1250.8,1387.7 1248.6,1386.5 1246.5,1386.2 1244.5,1387.0 1242.5,1388.5 1240.5,1390.1 1238.5,1390.8 1236.3,1390.3 1234.2,1388.9 1232.1,1387.6 1230.0,1387.0 1227.9,1387.6 1225.8,1388.9 1223.7,1390.3 1221.5,1390.8 1219.5,1390.1 1217.5,1388.5 1215.5,1387.0 1213.5,1386.2 1211.4,1386.5 1209.2,1387.7 1206.9,1388.8 1204.7,1389.1 1202.7,1388.1 1200.9,1386.4 1199.1,1384.7 1197.2,1383.7 1195.0,1383.8 1192.7,1384.7 1190.3,1385.6 1188.1,1385.6 1186.3,1384.5 1184.6,1382.6 1183.0,1380.7 1181.2,1379.5 1179.1,1379.5 1176.6,1380.1 1174.2,1380.8 1172.0,1380.6 1170.2,1379.3 1168.8,1377.2 1167.4,1375.1 1165.7,1373.8 1163.6,1373.5 1161.1,1373.9 1158.6,1374.3 1156.5,1373.9 1154.8,1372.5 1153.6,1370.2 1152.4,1368.0 1150.9,1366.5 1148.8,1366.0 1146.3,1366.2 1143.8,1366.3 1141.7,1365.7 1140.2,1364.1 1139.2,1361.8 1138.2,1359.4 1136.9,1357.8 1134.8,1357.1 1132.3,1357.0 1129.8,1356.9 1127.8,1356.0 1126.5,1354.3 1125.7,1351.9 1125.0,1349.5 1123.8,1347.7 1121.9,1346.8 1119.4,1346.4 1116.9,1346.0 1115.0,1345.0 1113.8,1343.1 1113.3,1340.7 1112.9,1338.2 1111.8,1336.3 1110.0,1335.2 1107.6,1334.6 1105.1,1334.0 1103.3,1332.8 1102.4,1330.8 1102.1,1328.3 1101.9,1325.8 1101.1,1323.8 1099.4,1322.5 1097.0,1321.7 1094.6,1320.8 1092.9,1319.4 1092.2,1317.3 1092.2,1314.8 1092.3,1312.3 1091.7,1310.2 1090.1,1308.8 1087.8,1307.7 1085.5,1306.6 1084.0,1305.0 1083.5,1302.9 1083.8,1300.4 1084.0,1297.9 1083.6,1295.8 1082.2,1294.2 1080.1,1292.9 1077.9,1291.6 1076.6,1289.8 1076.3,1287.7 1076.8,1285.2 1077.3,1282.8 1077.1,1280.6 1075.9,1278.9 1073.9,1277.4 1071.9,1275.8 1070.7,1274.0 1070.6,1271.8 1071.4,1269.4 1072.2,1267.0 1072.2,1264.9 1071.1,1263.0 1069.3,1261.3 1067.4,1259.6 1066.4,1257.6 1066.6,1255.4 1067.6,1253.1 1068.6,1250.8 1068.9,1248.7 1068.0,1246.7 1066.3,1244.8 1064.7,1242.9 1063.9,1240.9 1064.3,1238.7 1065.5,1236.5 1066.7,1234.4 1067.2,1232.3 1066.5,1230.2 1065.1,1228.2 1063.6,1226.1 1063.0,1224.0 1063.6,1221.9 1065.1,1219.8 1066.5,1217.8 1067.2,1215.7 1066.7,1213.6 1065.5,1211.5 1064.3,1209.3 1063.9,1207.1 1064.7,1205.1 1066.3,1203.2 1068.0,1201.3 1068.9,1199.3 1068.6,1197.2 1067.6,1194.9 1066.6,1192.6 1066.4,1190.4 1067.4,1188.4 1069.3,1186.7 1071.1,1185.0 1072.2,1183.1 1072.2,1181.0 1071.4,1178.6 1070.6,1176.2 1070.7,1174.0 1071.9,1172.2 1073.9,1170.6 1075.9,1169.1 1077.1,1167.4 1077.3,1165.2 1076.8,1162.8 1076.3,1160.3 1076.6,1158.2 1077.9,1156.4 1080.1,1155.1 1082.2,1153.8 1083.6,1152.2 1084.0,1150.1 1083.8,1147.6 1083.5,1145.1 1084.0,1143.0 1085.5,1141.4 1087.8,1140.3 1090.1,1139.2 1091.7,1137.8 1092.3,1135.7 1092.2,1133.2 1092.2,1130.7 1092.9,1128.6 1094.6,1127.2 1097.0,1126.3 1099.4,1125.5 1101.1,1124.2 1101.9,1122.2 1102.1,1119.7 1102.4,1117.2 1103.3,1115.2 1105.1,1114.0 1107.6,1113.4 1110.0,1112.8 1111.8,1111.7 1112.9,1109.8 1113.3,1107.3 1113.8,1104.9 1115.0,1103.0 1116.9,1102.0 1119.4,1101.6 1121.9,1101.2 1123.8,1100.3 1125.0,1098.5 1125.7,1096.1 1126.5,1093.7 1127.8,1092.0 1129.8,1091.1 1132.3,1091.0 1134.8,1090.9 1136.9,1090.2 1138.2,1088.6 1139.2,1086.2 1140.2,1083.9 1141.7,1082.3 1143.8,1081.7 1146.3,1081.8 1148.8,1082.0 1150.9,1081.5 1152.4,1080.0 1153.6,1077.8 1154.8,1075.5 1156.5,1074.1 1158.6,1073.7 1161.1,1074.1 1163.6,1074.5 1165.7,1074.2 1167.4,1072.9 1168.8,1070.8 1170.2,1068.7 1172.0,1067.4 1174.2,1067.2 1176.6,1067.9 1179.1,1068.5 1181.2,1068.5 1183.0,1067.3 1184.6,1065.4 1186.3,1063.5 1188.1,1062.4 1190.3,1062.4 1192.7,1063.3 1195.0,1064.2 1197.2,1064.3 1199.1,1063.3 1200.9,1061.6 1202.7,1059.9 1204.7,1058.9 1206.9,1059.2 1209.2,1060.3 1211.4,1061.5 1213.5,1061.8 1215.5,1061.0 1217.5,1059.5 1219.5,1057.9 1221.5,1057.2 1223.7,1057.7 1225.8,1059.1 1227.9,1060.4 1230.0,1061.0 1232.1,1060.4 1234.2,1059.1 1236.3,1057.7 1238.5,1057.2 1240.5,1057.9 1242.5,1059.5 1244.5,1061.0 1246.5,1061.8 1248.6,1061.5 1250.8,1060.3 1253.1,1059.2 1255.3,1058.9 1257.3,1059.9 1259.1,1061.6 1260.9,1063.3 1262.8,1064.3 1265.0,1064.2 1267.3,1063.3 1269.7,1062.4 1271.9,1062.4 1273.7,1063.5 1275.4,1065.4 1277.0,1067.3 1278.8,1068.5 1280.9,1068.5 1283.4,1067.9 1285.8,1067.2 1288.0,1067.4 1289.8,1068.7 1291.2,1070.8 1292.6,1072.9 1294.3,1074.2 1296.4,1074.5 1298.9,1074.1 1301.4,1073.7 1303.5,1074.1 1305.2,1075.5 1306.4,1077.8 1307.6,1080.0 1309.1,1081.5 1311.2,1082.0 1313.7,1081.8 1316.2,1081.7 1318.3,1082.3 1319.8,1083.9 1320.8,1086.2 1321.8,1088.6 1323.1,1090.2 1325.2,1090.9 1327.7,1091.0 1330.2,1091.1 1332.2,1092.0 1333.5,1093.7 1334.3,1096.1 1335.0,1098.5 1336.2,1100.3 1338.1,1101.2 1340.6,1101.6 1343.1,1102.0 1345.0,1103.0 1346.2,1104.9 1346.7,1107.3 1347.1,1109.8 1348.2,1111.7 1350.0,1112.8 1352.4,1113.4 1354.9,1114.0 1356.7,1115.2 1357.6,1117.2 1357.9,1119.7 1358.1,1122.2 1358.9,1124.2 1360.6,1125.5 1363.0,1126.3 1365.4,1127.2 1367.1,1128.6 1367.8,1130.7 1367.8,1133.2 1367.7,1135.7 1368.3,1137.8 1369.9,1139.2 1372.2,1140.3 1374.5,1141.4 1376.0,1143.0 1376.5,1145.1 1376.2,1147.6 1376.0,1150.1 1376.4,1152.2 1377.8,1153.8 1379.9,1155.1 1382.1,1156.4 1383.4,1158.2 1383.7,1160.3 1383.2,1162.8 1382.7,1165.2 1382.9,1167.4 1384.1,1169.1 1386.1,1170.6 1388.1,1172.2 1389.3,1174.0 1389.4,1176.2 1388.6,1178.6 1387.8,1181.0 1387.8,1183.1 1388.9,1185.0 1390.7,1186.7 1392.6,1188.4 1393.6,1190.4 1393.4,1192.6 1392.4,1194.9 1391.4,1197.2 1391.1,1199.3 1392.0,1201.3 1393.7,1203.2 1395.3,1205.1 1396.1,1207.1 1395.7,1209.3 1394.5,1211.5 1393.3,1213.6 1392.8,1215.7 1393.5,1217.8 1394.9,1219.8 1396.4,1221.9" fill="#e4c62c" stroke="#9a7a18" stroke-width="1"/>
  <circle cx="1230" cy="1224" r="166" fill="url(#sideg)"/>
  <polygon points="1367.1,1226.0 1366.6,1228.3 1365.4,1230.6 1364.2,1232.9 1363.6,1235.1 1364.0,1237.5 1365.0,1239.9 1365.9,1242.3 1366.2,1244.7 1365.5,1246.9 1364.0,1249.1 1362.6,1251.2 1361.8,1253.3 1361.9,1255.7 1362.6,1258.2 1363.3,1260.7 1363.4,1263.1 1362.4,1265.3 1360.8,1267.2 1359.1,1269.1 1358.1,1271.2 1357.9,1273.5 1358.4,1276.1 1358.9,1278.7 1358.7,1281.1 1357.5,1283.1 1355.7,1284.8 1353.8,1286.5 1352.6,1288.4 1352.2,1290.8 1352.5,1293.4 1352.6,1296.0 1352.2,1298.4 1350.8,1300.2 1348.8,1301.7 1346.8,1303.2 1345.4,1304.9 1344.8,1307.2 1344.8,1309.8 1344.7,1312.5 1344.0,1314.8 1342.4,1316.4 1340.3,1317.7 1338.2,1318.9 1336.6,1320.4 1335.8,1322.6 1335.5,1325.2 1335.1,1327.8 1334.2,1330.0 1332.5,1331.5 1330.2,1332.5 1328.0,1333.4 1326.2,1334.7 1325.2,1336.8 1324.6,1339.4 1324.0,1341.9 1322.9,1344.0 1321.0,1345.2 1318.7,1345.9 1316.4,1346.5 1314.5,1347.7 1313.3,1349.6 1312.5,1352.1 1311.6,1354.5 1310.2,1356.4 1308.3,1357.4 1305.9,1357.8 1303.5,1358.2 1301.6,1359.1 1300.1,1360.8 1299.1,1363.2 1297.9,1365.5 1296.4,1367.2 1294.4,1368.0 1292.0,1368.1 1289.6,1368.2 1287.5,1368.8 1285.9,1370.4 1284.6,1372.6 1283.3,1374.8 1281.6,1376.3 1279.5,1376.8 1277.1,1376.6 1274.7,1376.4 1272.6,1376.8 1270.8,1378.1 1269.3,1380.2 1267.8,1382.2 1265.9,1383.5 1263.8,1383.7 1261.4,1383.2 1259.1,1382.7 1256.9,1382.8 1255.1,1383.9 1253.3,1385.8 1251.6,1387.6 1249.6,1388.6 1247.5,1388.6 1245.2,1387.8 1242.9,1387.0 1240.8,1386.9 1238.8,1387.8 1236.9,1389.4 1235.0,1391.0 1232.9,1391.8 1230.8,1391.5 1228.6,1390.4 1226.4,1389.3 1224.3,1388.9 1222.2,1389.6 1220.2,1390.9 1218.1,1392.3 1216.0,1392.8 1213.9,1392.3 1211.8,1390.9 1209.8,1389.6 1207.7,1388.9 1205.6,1389.3 1203.4,1390.4 1201.2,1391.5 1199.1,1391.8 1197.0,1391.0 1195.1,1389.4 1193.2,1387.8 1191.2,1386.9 1189.1,1387.0 1186.8,1387.8 1184.5,1388.6 1182.4,1388.6 1180.4,1387.6 1178.7,1385.8 1176.9,1383.9 1175.1,1382.8 1172.9,1382.7 1170.6,1383.2 1168.2,1383.7 1166.1,1383.5 1164.2,1382.2 1162.7,1380.2 1161.2,1378.1 1159.4,1376.8 1157.3,1376.4 1154.9,1376.6 1152.5,1376.8 1150.4,1376.3 1148.7,1374.8 1147.4,1372.6 1146.1,1370.4 1144.5,1368.8 1142.4,1368.2 1140.0,1368.1 1137.6,1368.0 1135.6,1367.2 1134.1,1365.5 1132.9,1363.2 1131.9,1360.8 1130.4,1359.1 1128.5,1358.2 1126.1,1357.8 1123.7,1357.4 1121.8,1356.4 1120.4,1354.5 1119.5,1352.1 1118.7,1349.6 1117.5,1347.7 1115.6,1346.5 1113.3,1345.9 1111.0,1345.2 1109.1,1344.0 1108.0,1341.9 1107.4,1339.4 1106.8,1336.8 1105.8,1334.7 1104.0,1333.4 1101.8,1332.5 1099.5,1331.5 1097.8,1330.0 1096.9,1327.8 1096.5,1325.2 1096.2,1322.6 1095.4,1320.4 1093.8,1318.9 1091.7,1317.7 1089.6,1316.4 1088.0,1314.8 1087.3,1312.5 1087.2,1309.8 1087.2,1307.2 1086.6,1304.9 1085.2,1303.2 1083.2,1301.7 1081.2,1300.2 1079.8,1298.4 1079.4,1296.0 1079.5,1293.4 1079.8,1290.8 1079.4,1288.4 1078.2,1286.5 1076.3,1284.8 1074.5,1283.1 1073.3,1281.1 1073.1,1278.7 1073.6,1276.1 1074.1,1273.5 1073.9,1271.2 1072.9,1269.1 1071.2,1267.2 1069.6,1265.3 1068.6,1263.1 1068.7,1260.7 1069.4,1258.2 1070.1,1255.7 1070.2,1253.3 1069.4,1251.2 1068.0,1249.1 1066.5,1246.9 1065.8,1244.7 1066.1,1242.3 1067.0,1239.9 1068.0,1237.5 1068.4,1235.1 1067.8,1232.9 1066.6,1230.6 1065.4,1228.3 1064.9,1226.0 1065.4,1223.7 1066.6,1221.4 1067.8,1219.1 1068.4,1216.9 1068.0,1214.5 1067.0,1212.1 1066.1,1209.7 1065.8,1207.3 1066.5,1205.1 1068.0,1202.9 1069.4,1200.8 1070.2,1198.7 1070.1,1196.3 1069.4,1193.8 1068.7,1191.3 1068.6,1188.9 1069.6,1186.7 1071.2,1184.8 1072.9,1182.9 1073.9,1180.8 1074.1,1178.5 1073.6,1175.9 1073.1,1173.3 1073.3,1170.9 1074.5,1168.9 1076.3,1167.2 1078.2,1165.5 1079.4,1163.6 1079.8,1161.2 1079.5,1158.6 1079.4,1156.0 1079.8,1153.6 1081.2,1151.8 1083.2,1150.3 1085.2,1148.8 1086.6,1147.1 1087.2,1144.8 1087.2,1142.2 1087.3,1139.5 1088.0,1137.2 1089.6,1135.6 1091.7,1134.3 1093.8,1133.1 1095.4,1131.6 1096.2,1129.4 1096.5,1126.8 1096.9,1124.2 1097.8,1122.0 1099.5,1120.5 1101.8,1119.5 1104.0,1118.6 1105.8,1117.3 1106.8,1115.2 1107.4,1112.6 1108.0,1110.1 1109.1,1108.0 1111.0,1106.8 1113.3,1106.1 1115.6,1105.5 1117.5,1104.3 1118.7,1102.4 1119.5,1099.9 1120.4,1097.5 1121.8,1095.6 1123.7,1094.6 1126.1,1094.2 1128.5,1093.8 1130.4,1092.9 1131.9,1091.2 1132.9,1088.8 1134.1,1086.5 1135.6,1084.8 1137.6,1084.0 1140.0,1083.9 1142.4,1083.8 1144.5,1083.2 1146.1,1081.6 1147.4,1079.4 1148.7,1077.2 1150.4,1075.7 1152.5,1075.2 1154.9,1075.4 1157.3,1075.6 1159.4,1075.2 1161.2,1073.9 1162.7,1071.8 1164.2,1069.8 1166.1,1068.5 1168.2,1068.3 1170.6,1068.8 1172.9,1069.3 1175.1,1069.2 1176.9,1068.1 1178.7,1066.2 1180.4,1064.4 1182.4,1063.4 1184.5,1063.4 1186.8,1064.2 1189.1,1065.0 1191.2,1065.1 1193.2,1064.2 1195.1,1062.6 1197.0,1061.0 1199.1,1060.2 1201.2,1060.5 1203.4,1061.6 1205.6,1062.7 1207.7,1063.1 1209.8,1062.4 1211.8,1061.1 1213.9,1059.7 1216.0,1059.2 1218.1,1059.7 1220.2,1061.1 1222.2,1062.4 1224.3,1063.1 1226.4,1062.7 1228.6,1061.6 1230.8,1060.5 1232.9,1060.2 1235.0,1061.0 1236.9,1062.6 1238.8,1064.2 1240.8,1065.1 1242.9,1065.0 1245.2,1064.2 1247.5,1063.4 1249.6,1063.4 1251.6,1064.4 1253.3,1066.2 1255.1,1068.1 1256.9,1069.2 1259.1,1069.3 1261.4,1068.8 1263.8,1068.3 1265.9,1068.5 1267.8,1069.8 1269.3,1071.8 1270.8,1073.9 1272.6,1075.2 1274.7,1075.6 1277.1,1075.4 1279.5,1075.2 1281.6,1075.7 1283.3,1077.2 1284.6,1079.4 1285.9,1081.6 1287.5,1083.2 1289.6,1083.8 1292.0,1083.9 1294.4,1084.0 1296.4,1084.8 1297.9,1086.5 1299.1,1088.8 1300.1,1091.2 1301.6,1092.9 1303.5,1093.8 1305.9,1094.2 1308.3,1094.6 1310.2,1095.6 1311.6,1097.5 1312.5,1099.9 1313.3,1102.4 1314.5,1104.3 1316.4,1105.5 1318.7,1106.1 1321.0,1106.8 1322.9,1108.0 1324.0,1110.1 1324.6,1112.6 1325.2,1115.2 1326.2,1117.3 1328.0,1118.6 1330.2,1119.5 1332.5,1120.5 1334.2,1122.0 1335.1,1124.2 1335.5,1126.8 1335.8,1129.4 1336.6,1131.6 1338.2,1133.1 1340.3,1134.3 1342.4,1135.6 1344.0,1137.2 1344.7,1139.5 1344.8,1142.2 1344.8,1144.8 1345.4,1147.1 1346.8,1148.8 1348.8,1150.3 1350.8,1151.8 1352.2,1153.6 1352.6,1156.0 1352.5,1158.6 1352.2,1161.2 1352.6,1163.6 1353.8,1165.5 1355.7,1167.2 1357.5,1168.9 1358.7,1170.9 1358.9,1173.3 1358.4,1175.9 1357.9,1178.5 1358.1,1180.8 1359.1,1182.9 1360.8,1184.8 1362.4,1186.7 1363.4,1188.9 1363.3,1191.3 1362.6,1193.8 1361.9,1196.3 1361.8,1198.7 1362.6,1200.8 1364.0,1202.9 1365.5,1205.1 1366.2,1207.3 1365.9,1209.7 1365.0,1212.1 1364.0,1214.5 1363.6,1216.9 1364.2,1219.1 1365.4,1221.4 1366.6,1223.7" fill="#f6b843"/>
  <ellipse cx="1216" cy="1226" rx="149" ry="164" fill="url(#knobface)"/>
  <ellipse cx="1225" cy="1228.5" rx="126.5" ry="135" transform="rotate(-3 1225 1228.5)" fill="#ebebeb" stroke="#eaa534" stroke-width="2.5"/>
  <g stroke="#111" stroke-width="6" stroke-linecap="round">
    <line x1="1261" y1="1157" x2="1286.7" y2="1117"/>
    <line x1="1301.3" y1="1225.3" x2="1349.3" y2="1221.3"/>
    <line x1="1272" y1="1293.3" x2="1302.7" y2="1336"/>
    <line x1="1201.3" y1="1306.7" x2="1188" y2="1357.3"/>
    <line x1="1149.3" y1="1249.3" x2="1104" y2="1265.3"/>
  </g>
  <g font-family="Liberation Sans" font-weight="bold" font-size="36" fill="#111" text-anchor="middle">
    <text transform="translate(1148.4 1218.3) rotate(3) scale(0.9 1)" y="12.9">200</text>
    <text transform="translate(1174.7 1272) rotate(-58) scale(0.9 1)" y="12.9">250</text>
    <text transform="translate(1225.3 1289.3) rotate(-85) scale(0.9 1)" y="12.9">300</text>
    <text transform="translate(1270.7 1252) rotate(-152) scale(0.9 1)" y="12.9">350</text>
    <text transform="translate(1270.7 1193.3) rotate(146) scale(0.9 1)" y="12.9">400</text>
    <text transform="translate(1225.3 1154.7) rotate(113) scale(0.9 1)" y="12.9">450</text>
  </g>
  <path d="M1192.6 1216 A14.7 14.7 0 1 1 1206.7 1237.9" fill="none" stroke="#111" stroke-width="4.6" stroke-linecap="round"/>
  <circle cx="1232" cy="1220.7" r="4" fill="none" stroke="#111" stroke-width="3.4"/>
</g>
<circle cx="1238.2" cy="1217.8" r="188.5" fill="none" stroke="#2590f0" stroke-width="7"/>

<text class="t" x="208.6" y="390" text-anchor="middle">US Enchufar</text>
<text class="t" x="1034.5" y="490.6" text-anchor="middle">Reemplazable</text>
<text class="t" x="912" y="862.6" text-anchor="middle">Tubería de acero</text>
<text class="t" x="912" y="905" text-anchor="middle">con cuatro orificios</text>
<text class="t" x="912" y="948" text-anchor="middle">de ventilación</text>
<text class="t" x="109" y="970.7" text-anchor="middle">Cambiar</text>
<text class="t" x="881" y="1356.8" text-anchor="middle">Perilla de control</text>
<text class="t" x="881" y="1400" text-anchor="middle">de temperatura</text>
<text class="t" x="881" y="1443.2" text-anchor="middle">200°C-450c</text>
</svg>
</body></html>
